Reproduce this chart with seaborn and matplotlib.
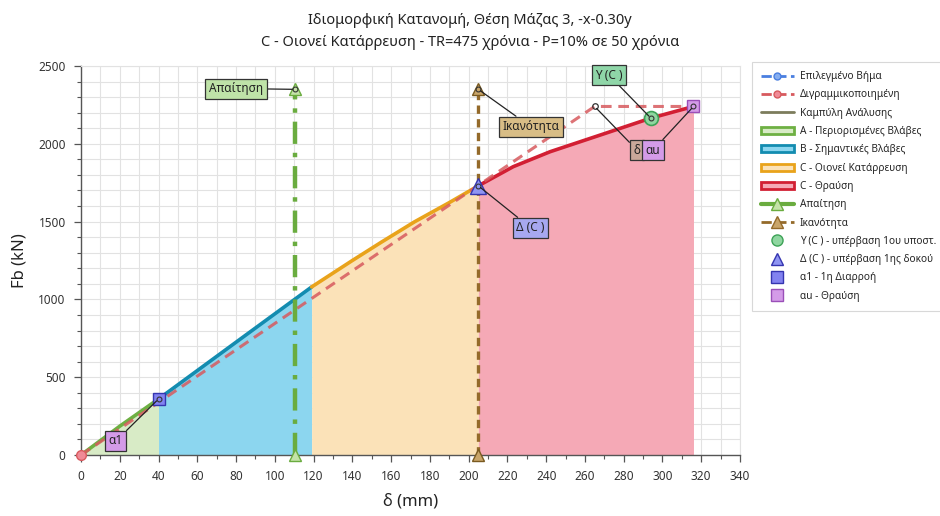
import numpy as np
import pandas as pd
import matplotlib
matplotlib.use("Agg")
import matplotlib.pyplot as plt
from matplotlib.lines import Line2D
from matplotlib.patches import Patch
from matplotlib.ticker import MultipleLocator
import seaborn as sns

# --- pushover (capacity) curve, mm / kN ---
curve_d = [0, 20, 40, 80, 119, 140, 155, 172, 190, 205, 223, 242, 270, 294, 316]
curve_F = [0, 185, 360, 725, 1080, 1250, 1368, 1498, 1622, 1730, 1853, 1949, 2065, 2165, 2240]

# bilinear idealisation
bilin_d = [0, 265, 316]
bilin_F = [0, 2240, 2240]

# performance-level limits along the curve
limit_A = 40     # a1 - first yield
limit_B = 119
limit_C = 205    # Δ(C)
limit_U = 316    # au - failure

demand_d = 110.5
capacity_d = 205
demand_top = 2350

point_a1 = (40, 360)
point_delta = (205, 1730)
point_y = (294, 2165)
point_au = (316, 2240)

title_lines = ["Ιδιομορφική Κατανομή, Θέση Μάζας 3, -x-0.30y",
               "C - Οιονεί Κατάρρευση - TR=475 χρόνια - P=10% σε 50 χρόνια"]

zone_names = ["A - Περιορισμένες Βλάβες", "B - Σημαντικές Βλάβες",
              "C - Οιονεί Κατάρρευση", "C - Θραύση"]
zone_line = ["#6eb043", "#138cb0", "#e9a31b", "#d21f33"]
zone_fill = ["#d8ebc6", "#8cd6ef", "#fbe2b8", "#f5a9b6"]

sns.set_theme(style="white")
plt.rcParams["font.family"] = ["Noto Sans", "DejaVu Sans"]

fig = plt.figure(figsize=(9.4, 5.16), dpi=100)
ax = fig.add_axes([81 / 940, 61 / 516, 659 / 940, 389 / 516])

curve = pd.DataFrame({"d": curve_d, "F": curve_F})
bounds = [0, limit_A, limit_B, limit_C, limit_U]
for i in range(4):
    lo, hi = bounds[i], bounds[i + 1]
    seg = curve[(curve.d >= lo) & (curve.d <= hi)]
    ax.fill_between(seg.d, 0, seg.F, color=zone_fill[i], lw=0, zorder=1)
    sns.lineplot(data=seg, x="d", y="F", ax=ax, color=zone_line[i], lw=2.6,
                 sort=False, estimator=None, zorder=4)

# bilinear
bil = pd.DataFrame({"d": bilin_d, "F": bilin_F})
sns.lineplot(data=bil, x="d", y="F", ax=ax, color="#d75a5e", lw=2.2,
             dashes=(3.5, 2.2), sort=False, estimator=None, zorder=5, alpha=0.85)
ax.plot(bilin_d[0], bilin_F[0], "o", ms=7, mfc="#f08a96", mec="#d75a5e", zorder=8,
        clip_on=False)
ax.plot(bilin_d[1], bilin_F[1], "o", ms=4, mfc="none", mec="#333333", mew=0.9, zorder=8)

# demand & capacity verticals
dem = pd.DataFrame({"d": [demand_d, demand_d], "F": [0, demand_top]})
sns.lineplot(data=dem, x="d", y="F", ax=ax, color="#6aac3f", lw=3.2,
             dashes=(5, 2, 1, 2), sort=False, estimator=None, zorder=6)
cap = pd.DataFrame({"d": [capacity_d, capacity_d], "F": [0, demand_top]})
sns.lineplot(data=cap, x="d", y="F", ax=ax, color="#946a2a", lw=2.4,
             dashes=(2.5, 1.6), sort=False, estimator=None, zorder=6)
for dd, fc, ec in [(demand_d, "#c4e2a8", "#6aac3f"), (capacity_d, "#c9a56a", "#7a5a20")]:
    ax.plot([dd, dd], [0, demand_top], "^", ms=9, mfc=fc, mec=ec, mew=1, zorder=7,
            clip_on=False)
    ax.plot(dd, demand_top, "o", ms=3.5, mfc="none", mec="#333333", mew=0.8, zorder=8)

# characteristic points
ax.plot(*point_a1, "s", ms=9, mfc="#8282f0", mec="#3535b0", mew=1, zorder=9)
ax.plot(*point_delta, "^", ms=11, mfc="#8f95f2", mec="#3535b0", mew=1, zorder=9)
ax.plot(*point_y, "o", ms=10, mfc="#8fd6a0", mec="#3da257", mew=1.2, zorder=9)
ax.plot(*point_au, "s", ms=9, mfc="#d49be8", mec="#9a4fb8", mew=1, zorder=9)
for p in [point_a1, point_delta, point_y, point_au]:
    ax.plot(*p, "o", ms=3.5, mfc="none", mec="#333333", mew=0.8, zorder=10)

def tag(text, xy, xytext, fc):
    ax.annotate(text, xy=xy, xytext=xytext, textcoords="data", fontsize=8.5,
                ha="center", va="center", color="#222222", zorder=12,
                bbox=dict(boxstyle="square,pad=0.3", fc=fc, ec="#333333", lw=0.9),
                arrowprops=dict(arrowstyle="-", color="#222222", lw=0.9,
                                shrinkA=0, shrinkB=2))

tag("Απαίτηση", (demand_d, demand_top), (80, 2355), "#bfe3a8")
tag("Ικανότητα", (capacity_d, demand_top), (232, 2110), "#d8bd86")
tag("Δ (C )", point_delta, (232, 1460), "#a7a8f0")
tag("Υ (C )", point_y, (272.5, 2440), "#8fd6a8")
tag("δ", (bilin_d[1], bilin_F[1]), (286.8, 1960), "#c9a89a")
tag("αu", point_au, (295.2, 1960), "#d49be8")
tag("α1", point_a1, (18, 90), "#d49be8")

# axes
ax.set_xlim(0, 340)
ax.set_ylim(0, 2500)
ax.xaxis.set_major_locator(MultipleLocator(20))
ax.xaxis.set_minor_locator(MultipleLocator(10))
ax.yaxis.set_major_locator(MultipleLocator(500))
ax.yaxis.set_minor_locator(MultipleLocator(100))
ax.grid(which="both", color="#e2e2e2", lw=0.8, zorder=0)
ax.set_axisbelow(True)
ax.tick_params(which="major", direction="out", length=5, width=0.9, color="#555555",
               labelsize=8.5, labelcolor="#333333", bottom=True, left=True, pad=6)
ax.tick_params(which="minor", direction="out", length=3, width=0.8, color="#555555",
               bottom=True, left=True)
for s in ["left", "bottom"]:
    ax.spines[s].set_color("#555555")
    ax.spines[s].set_linewidth(1)
for s in ["top", "right"]:
    ax.spines[s].set_color("#e2e2e2")
    ax.spines[s].set_linewidth(0.8)
ax.set_xlabel("δ (mm)", fontsize=12, color="#222222", labelpad=7)
ax.set_ylabel("Fb (kN)", fontsize=12, color="#222222", labelpad=8)

fig.text(0.5, 1 - 20 / 516, title_lines[0], ha="center", va="center", fontsize=10.5,
         color="#222222")
fig.text(0.5, 1 - 43 / 516, title_lines[1], ha="center", va="center", fontsize=10.5,
         color="#222222")

handles = [
    Line2D([], [], color="#4a7fe0", ls="--", lw=2, marker="o", ms=5, mfc="#86aef0"),
    Line2D([], [], color="#d75a5e", ls="--", lw=2, marker="o", ms=5, mfc="#f08a96"),
    Line2D([], [], color="#7c7c5c", lw=2),
]
handles += [Patch(fc=zone_fill[i], ec=zone_line[i], lw=2) for i in range(4)]
handles += [
    Line2D([], [], color="#6aac3f", lw=3, marker="^", ms=8, mfc="#c4e2a8"),
    Line2D([], [], color="#946a2a", ls="--", lw=2, marker="^", ms=8, mfc="#c9a56a"),
    Line2D([], [], ls="none", marker="o", ms=8, mfc="#8fd6a0", mec="#3da257"),
    Line2D([], [], ls="none", marker="^", ms=9, mfc="#8f95f2", mec="#3535b0"),
    Line2D([], [], ls="none", marker="s", ms=8, mfc="#8282f0", mec="#3535b0"),
    Line2D([], [], ls="none", marker="s", ms=8, mfc="#d49be8", mec="#9a4fb8"),
]
labels = ["Επιλεγμένο Βήμα", "Διγραμμικοποιημένη", "Καμπύλη Ανάλυσης"] + zone_names + [
    "Απαίτηση", "Ικανότητα", "Υ (C ) - υπέρβαση 1ου υποστ.",
    "Δ (C ) - υπέρβαση 1ης δοκού", "α1 - 1η Διαρροή", "αu - Θραύση"]
leg = fig.legend(handles, labels, loc="upper left", bbox_to_anchor=(752 / 940, 1 - 62 / 516),
                 fontsize=7.3, frameon=True, fancybox=False, handlelength=3.2,
                 borderpad=0.9, labelspacing=0.72, handletextpad=0.6, borderaxespad=0)
leg.get_frame().set_edgecolor("#cfcfcf")
leg.get_frame().set_linewidth(0.8)

fig.savefig("out.png", dpi=100)
